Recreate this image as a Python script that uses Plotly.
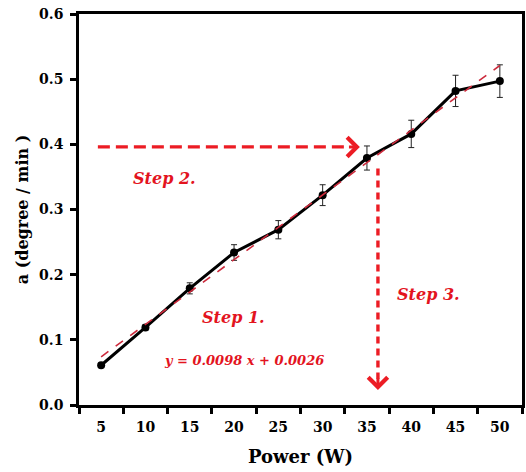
import plotly.graph_objects as go

# ---- data ----
power = [5, 10, 15, 20, 25, 30, 35, 40, 45, 50]
rate = [0.061, 0.119, 0.179, 0.234, 0.269, 0.322, 0.379, 0.416, 0.482, 0.497]
rate_err = [0.003, 0.004, 0.0085, 0.012, 0.014, 0.016, 0.0185, 0.021, 0.024, 0.025]
fit_x = [5, 50]
fit_y = [0.074, 0.521]
x_ticks = [5, 10, 15, 20, 25, 30, 35, 40, 45, 50]
x_bounds = [2.5, 7.5, 12.5, 17.5, 22.5, 27.5, 32.5, 37.5, 42.5, 47.5, 52.5]
y_ticks = [0.0, 0.1, 0.2, 0.3, 0.4, 0.5, 0.6]
h_arrow = dict(x0=4.63, x1=34.2, y=0.396)
v_arrow = dict(x=36.24, y0=0.363, y1=0.023)
labels = [
    ("Step 2.", 12.2, 0.348, 16),
    ("Step 1.", 19.9, 0.135, 16),
    ("Step 3.", 41.9, 0.169, 16),
    ("y = 0.0098 x + 0.0026", 21.1, 0.069, 13),
]

SERIF = "DejaVu Serif"
RED = "#ec1c24"
TXT_RED = "#e3141e"

fig = go.Figure()
fig.add_trace(go.Scatter(
    x=power, y=rate, mode="lines+markers",
    line=dict(color="black", width=3),
    marker=dict(color="black", size=8),
    error_y=dict(type="data", array=rate_err, color="#222222", thickness=1, width=3),
    showlegend=False,
))
fig.add_trace(go.Scatter(
    x=fit_x, y=fit_y, mode="lines",
    line=dict(color="#cc2a3c", width=1.6, dash="dash"),
    showlegend=False,
))

fig.add_shape(type="line", xref="x", yref="y",
              x0=h_arrow["x0"], x1=h_arrow["x1"] - 1.2, y0=h_arrow["y"], y1=h_arrow["y"],
              line=dict(color=RED, width=3.2, dash="12px,6px"))
fig.add_shape(type="line", xref="x", yref="y",
              x0=v_arrow["x"], x1=v_arrow["x"], y0=v_arrow["y0"], y1=v_arrow["y1"] + 0.017,
              line=dict(color=RED, width=3.4, dash="7px,5px"))
fig.add_annotation(x=h_arrow["x1"], y=h_arrow["y"], ax=h_arrow["x1"] - 1.4, ay=h_arrow["y"],
                   xref="x", yref="y", axref="x", ayref="y", text="",
                   showarrow=True, arrowhead=4, arrowsize=1.25, arrowwidth=3, arrowcolor=RED)
fig.add_annotation(x=v_arrow["x"], y=v_arrow["y1"], ax=v_arrow["x"], ay=v_arrow["y1"] + 0.02,
                   xref="x", yref="y", axref="x", ayref="y", text="",
                   showarrow=True, arrowhead=4, arrowsize=1.25, arrowwidth=3, arrowcolor=RED)

for txt, lx, ly, fs in labels:
    fig.add_annotation(x=lx, y=ly, xref="x", yref="y", text="<b><i>%s</i></b>" % txt,
                       showarrow=False, font=dict(family=SERIF, size=fs, color=TXT_RED))

fig.update_layout(
    width=526, height=472,
    margin=dict(l=79, r=1, t=14, b=67),
    paper_bgcolor="white", plot_bgcolor="white",
    font=dict(family=SERIF, color="black"),
)
fig.update_xaxes(
    range=[2.5, 52.5], tickvals=x_ticks, ticktext=["<b>%d</b>" % v for v in x_ticks],
    ticks="outside", ticklen=7, tickcolor="rgba(0,0,0,0)",
    minor=dict(tickvals=x_bounds, ticks="outside", ticklen=6, tickwidth=2.5, tickcolor="black"),
    tickfont=dict(family=SERIF, size=14, color="black"),
    showgrid=False, zeroline=False,
    showline=True, linecolor="black", linewidth=2.5, mirror=True,
    title=dict(text="<b>Power (W)</b>", font=dict(family=SERIF, size=18, color="black"), standoff=17),
)
fig.update_yaxes(
    range=[0, 0.6], tickvals=y_ticks, ticktext=["<b>%.1f</b>" % v for v in y_ticks],
    ticks="outside", ticklen=6, tickwidth=2.5, tickcolor="black",
    tickfont=dict(family=SERIF, size=14, color="black"),
    ticklabelstandoff=4,
    showgrid=False, zeroline=False,
    showline=True, linecolor="black", linewidth=2.5, mirror=True,
    title=dict(text="<b>a (degree / min )</b>", font=dict(family=SERIF, size=16, color="black"), standoff=7),
)

fig.write_html("out.html", config={"displayModeBar": False},
               post_script="document.body.style.margin='0';")
